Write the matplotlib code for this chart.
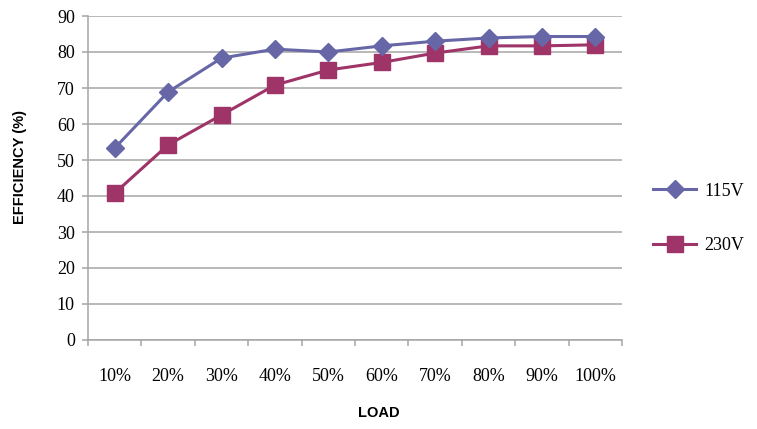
"""Efficiency vs load chart for 115V and 230V input."""
import matplotlib
matplotlib.use("Agg")
import matplotlib.pyplot as plt
import numpy as np

# Data
loads = ["10%", "20%", "30%", "40%", "50%", "60%", "70%", "80%", "90%", "100%"]
eff_115v = [53.3, 68.9, 78.3, 80.8, 80.0, 81.7, 83.0, 83.9, 84.3, 84.3]
eff_230v = [40.8, 54.2, 62.5, 70.8, 75.0, 77.1, 79.7, 81.7, 81.7, 82.0]
y_ticks = list(range(0, 100, 10))

COLOR_115 = "#6767a8"
COLOR_230 = "#9e3468"
GRID = "#a6a6a6"
SERIF = "Liberation Serif"
SANS = "Liberation Sans"

fig = plt.figure(figsize=(7.57, 4.29), dpi=100)
ax = fig.add_axes([88 / 757, 1 - 340 / 429, 534 / 757, 324 / 429])

x = np.arange(len(loads))
ax.plot(x, eff_115v, color=COLOR_115, lw=2.2, marker="D", ms=9.5,
        mec=COLOR_115, label="115V", zorder=4)
ax.plot(x, eff_230v, color=COLOR_230, lw=2.2, marker="s", ms=11.5,
        mec=COLOR_230, label="230V", zorder=3)

ax.set_xlim(-0.5, len(loads) - 0.5)
ax.set_ylim(0, 90)

# y axis: gridlines + outward ticks
ax.set_yticks(y_ticks)
ax.set_yticklabels([str(v) for v in y_ticks], family=SERIF, fontsize=13)
ax.yaxis.grid(True, color=GRID, lw=1.1)
ax.set_axisbelow(True)
ax.tick_params(axis="y", direction="out", length=4.5, width=1.1, color=GRID, pad=5)

# x axis: ticks at category boundaries, labels at centers
ax.set_xticks(np.arange(-0.5, len(loads), 1.0))
ax.set_xticklabels([])
ax.set_xticks(x, minor=True)
ax.set_xticklabels(loads, minor=True, family=SERIF, fontsize=13)
ax.tick_params(axis="x", which="major", direction="out", length=4, width=1.1, color=GRID)
ax.tick_params(axis="x", which="minor", length=0, pad=20)

for side in ("top", "right"):
    ax.spines[side].set_visible(False)
for side in ("left", "bottom"):
    ax.spines[side].set_color(GRID)
    ax.spines[side].set_linewidth(1.1)

ax.set_xlabel("LOAD", family=SANS, fontweight="bold", fontsize=10.5)
ax.set_ylabel("EFFICIENCY (%)", family=SANS, fontweight="bold", fontsize=10.5)
ax.xaxis.set_label_coords((379 - 88) / 534, (340 - 406) / 324)
ax.yaxis.set_label_coords((27 - 88) / 534, (340 - 167) / 324)

ax.legend(loc="center left", bbox_to_anchor=(653 / 757, 1 - 218.5 / 429),
          bbox_transform=fig.transFigure, frameon=False, borderpad=0,
          borderaxespad=0, handlelength=2.4, handletextpad=0.45,
          labelspacing=2.1, prop={"family": SERIF, "size": 13})

fig.savefig("out.png", dpi=100)
plt.close(fig)
